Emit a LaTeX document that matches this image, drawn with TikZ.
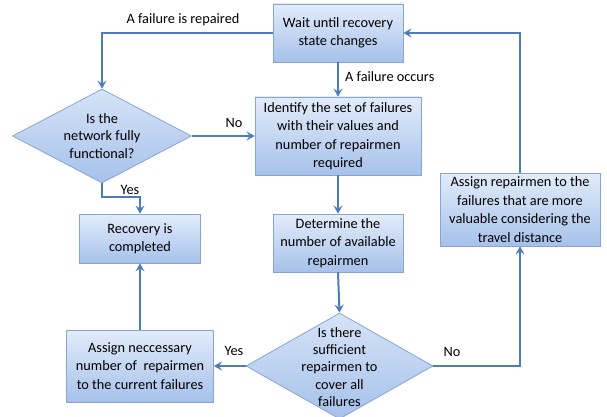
\documentclass[tikz,border=0pt]{standalone}
\usepackage{fontspec}
\setmainfont{Carlito}
\usetikzlibrary{arrows.meta,shapes.geometric,positioning}
\definecolor{boxtop}{HTML}{E2ECFA}
\definecolor{boxbot}{HTML}{A6C1EA}
\definecolor{boxline}{HTML}{86A4D4}
\definecolor{flow}{HTML}{4A7DBA}
\tikzset{
  stepbox/.style={rectangle, draw=boxline, line width=0.8pt, top color=boxtop, bottom color=boxbot,
    align=center, inner sep=0pt, font=\fontsize{14.3}{18.5}\selectfont},
  decide/.style={diamond, draw=boxline, line width=0.8pt, top color=boxtop!80!boxbot, bottom color=boxbot,
    inner sep=0pt, minimum width=#1},
  dtext/.style={align=center, inner sep=0pt, font=\fontsize{14.3}{17.2}\selectfont},
  arr/.style={draw=flow, line width=2pt, -{Stealth[length=8pt,width=9pt,inset=3pt]}},
  lbl/.style={inner sep=0pt, font=\fontsize{14.3}{16}\selectfont}
}
\begin{document}
\begin{tikzpicture}[x=1pt,y=-1pt]
\useasboundingbox (0,0) rectangle (607,417);

% process boxes
\node[stepbox, minimum width=130, minimum height=58] (wait) at (338,33)
  {Wait until recovery\\state changes};
\node[stepbox, minimum width=166, minimum height=78] (ident) at (338,136)
  {Identify the set of failures\\with their values and\\number of repairmen\\required};
\node[stepbox, minimum width=130, minimum height=58] (determ) at (338,243)
  {Determine the\\number of available\\repairmen};
\node[stepbox, minimum width=121, minimum height=49] (recov) at (140,238.5)
  {Recovery is\\completed};
\node[stepbox, minimum width=147, minimum height=72] (assignN) at (140,366)
  {Assign neccessary\\number of~ repairmen\\to the current failures};
\node[stepbox, minimum width=160, minimum height=73] (assignR) at (520,209.5)
  {Assign repairmen to the\\failures that are more\\valuable considering the\\travel distance};

% decisions
\node[decide=179, minimum height=94,
  label={[dtext]center:Is the\\network fully\\functional?}] (d1) at (102,136) {};
\node[decide=187, minimum height=106,
  label={[dtext, yshift=-1pt]center:Is there\\sufficient\\repairmen to\\cover all\\failures}] (d2) at (339.5,366) {};

% connectors
\draw[arr] (wait.west) -| (d1.north);
\draw[arr] (wait.south) -- (ident.north);
\draw[arr] (d1.east) -- (ident.west);
\draw[arr] (d1.south) -- ++(0,14) -| (recov.north);
\draw[arr] (ident.south) -- (determ.north);
\draw[arr] (determ.south) -- (d2.north);
\draw[arr] (d2.west) -- (assignN.east);
\draw[arr] (assignN.north) -- (recov.south);
\draw[arr] (d2.east) -| (assignR.south);
\draw[arr] (assignR.north) |- (wait.east);

% connector labels
\node[lbl] (lrep) at (183,20) {A failure is repaired};
\node[lbl, anchor=west] (locc) at (345,77) {A failure occurs};
\node[lbl] (lno1) at (234,123) {No};
\node[lbl] (lyes1) at (130,190) {Yes};
\node[lbl] (lyes2) at (234,351) {Yes};
\node[lbl] (lno2) at (452,352) {No};
\end{tikzpicture}
\end{document}
